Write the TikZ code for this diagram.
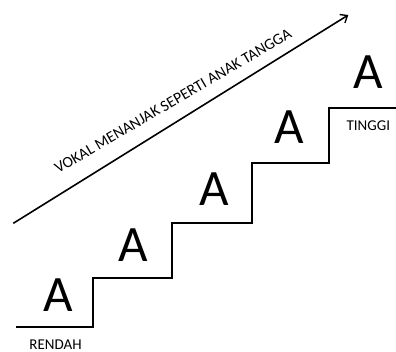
\documentclass[tikz,border=0pt]{standalone}
\usepackage{fontspec}
\setmainfont{Carlito}
\usetikzlibrary{arrows.meta}
\tikzset{
  bigA/.style={anchor=base, inner sep=0pt, font=\fontsize{51}{51}\selectfont},
  lbl/.style={anchor=base, inner sep=0pt, font=\fontsize{15}{15}\selectfont},
  stair/.style={line width=1.8pt, line join=miter},
  rise/.style={line width=1.6pt, -{Straight Barb[length=6pt,width=10pt,line width=1.4pt]}}
}
\begin{document}
\begin{tikzpicture}[x=1pt,y=-1pt]
\useasboundingbox (0,0) rectangle (396,351);
% stairs
\draw[stair] (16,327) -- (93,327) -- (93,278) -- (172,278) -- (172,223) -- (252,223) -- (252,163) -- (329,163) -- (329,108) -- (397,108);
% letters
\node[bigA] (a1) at (58,311) {A};
\node[bigA] (a2) at (133,261.5) {A};
\node[bigA] (a3) at (214,205.5) {A};
\node[bigA] (a4) at (289.3,143) {A};
\node[bigA] (a5) at (368.3,88) {A};
% labels
\node[lbl] (low) at (55.5,349) {RENDAH};
\node[lbl] (high) at (368.3,130.7) {TINGGI};
% arrow
\coordinate (s) at (13.3,223.3);
\coordinate (e) at (348.3,15);
\draw[rise] (s) -- (e);
\node[anchor=base, inner sep=0pt, rotate=30.3, font=\fontsize{15.7}{15.7}\selectfont] (cap) at (175.5,105.4) {VOKAL MENANJAK SEPERTI ANAK TANGGA};
\end{tikzpicture}
\end{document}
